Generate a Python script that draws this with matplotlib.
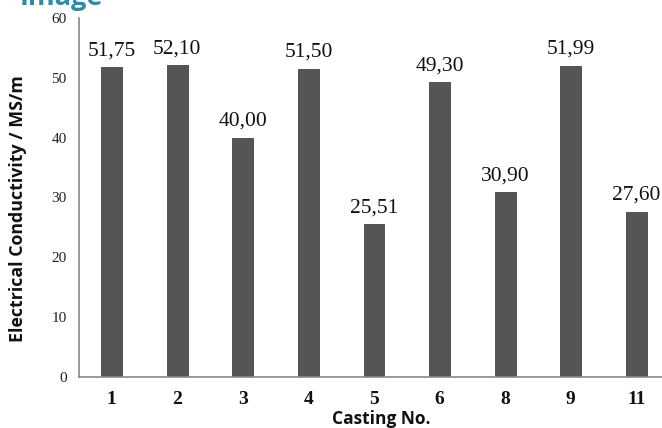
import matplotlib.pyplot as plt

# data
castings = ["1", "2", "3", "4", "5", "6", "8", "9", "11"]
conductivity = [51.75, 52.10, 40.00, 51.50, 25.51, 49.30, 30.90, 51.99, 27.60]
value_labels = ["51,75", "52,10", "40,00", "51,50", "25,51", "49,30", "30,90", "51,99", "27,60"]
y_ticks = [0, 10, 20, 30, 40, 50, 60]

serif = "Liberation Serif"
sans = "Open Sans"

fig = plt.figure(figsize=(6.62, 4.28), dpi=100)
ax = fig.add_axes([79 / 662, 51 / 428, 590 / 662, 359 / 428])

x = range(len(castings))
ax.bar(x, conductivity, width=0.32, color="#555555", edgecolor="#444444", linewidth=0.6)

for xi, v, lab in zip(x, conductivity, value_labels):
    ax.annotate(lab, (xi, v), xytext=(0, 5), textcoords="offset points",
                ha="center", va="bottom", fontsize=15.5, family=serif, color="#111111")

ax.set_xlim(-0.5, len(castings) - 0.5)
ax.set_ylim(0, 60)
ax.set_yticks(y_ticks)
ax.set_yticklabels([str(t) for t in y_ticks], family=serif, fontsize=11, color="#222222")
ax.set_xticks(list(x))
ax.set_xticklabels(castings, family=serif, fontsize=14, fontweight="bold", color="#111111")
ax.tick_params(axis="both", length=0)
ax.tick_params(axis="y", pad=9)
ax.tick_params(axis="x", pad=10)

for s in ["top", "right"]:
    ax.spines[s].set_visible(False)
ax.spines["left"].set_color("#888888")
ax.spines["bottom"].set_color("#888888")
ax.spines["left"].set_linewidth(1.2)
ax.spines["bottom"].set_linewidth(1.2)

ax.set_ylabel("Electrical Conductivity / MS/m", family=sans, fontsize=12.8,
              fontweight="bold", color="#111111", va="center")
ax.yaxis.set_label_coords(-0.103, 0.47)
ax.set_xlabel("Casting No.", family=sans, fontsize=12.5, fontweight="bold",
              color="#111111", va="center")
ax.xaxis.set_label_coords(0.512, -0.117)

# clipped header text at the very top
fig.text(20 / 662, 1 - 5 / 428, "Image", family=sans, fontsize=19.5, fontweight="bold",
         color="#2a8ca8", va="baseline", ha="left")

fig.savefig("out.png", dpi=100)
